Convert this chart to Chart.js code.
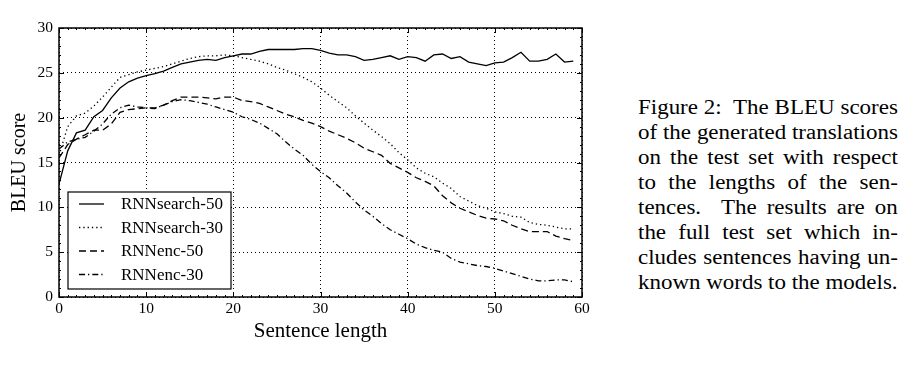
<!DOCTYPE html>
<html>
<head>
<meta charset="utf-8">
<script src="https://cdn.jsdelivr.net/npm/chart.js@4/dist/chart.umd.min.js"></script>
<style>
  body { margin: 0; background: #fff; }
  #wrap { position: absolute; left: 0; top: 0; width: 600px; height: 369px; }
  #caption {
    position: absolute; left: 638px; top: 95px; width: 232px;
    transform: scaleX(1.12); transform-origin: 0 0;
    font-family: "Liberation Serif", "Times New Roman", serif;
    font-size: 20.5px; line-height: 25px; color: #000;
  }
  #caption div { text-align: justify; text-align-last: justify; white-space: nowrap; }
  #caption div.last { text-align-last: left; }
</style>
</head>
<body>
<div id="wrap"><canvas id="bleu-graph"></canvas></div>
<div id="caption">
  <div>Figure 2:&nbsp; The BLEU scores</div>
  <div>of the generated translations</div>
  <div>on the test set with respect</div>
  <div>to the lengths of the sen-</div>
  <div>tences.&nbsp; The results are on</div>
  <div>the full test set which in-</div>
  <div>cludes sentences having un-</div>
  <div class="last">known words to the models.</div>
</div>
<script>
// sentence lengths on the x axis
var sentenceLength = [];
for (var i = 0; i < 60; i++) sentenceLength.push(i);

var rnnSearch50 = [12.6, 16.3, 18.3, 18.6, 20.1, 20.8, 22.2, 23.3, 24.0, 24.4,
  24.7, 24.9, 25.2, 25.6, 26.0, 26.2, 26.4, 26.5, 26.4, 26.7,
  26.9, 27.1, 27.1, 27.4, 27.6, 27.6, 27.6, 27.6, 27.7, 27.7,
  27.5, 27.2, 27.0, 27.0, 26.8, 26.4, 26.5, 26.7, 26.9, 26.5,
  26.8, 26.7, 26.3, 27.0, 27.1, 26.6, 26.8, 26.2, 26.0, 25.8,
  26.1, 26.2, 26.7, 27.3, 26.3, 26.3, 26.5, 27.1, 26.2, 26.3];

var rnnSearch30 = [15.8, 19.0, 20.2, 20.5, 21.3, 22.3, 23.4, 24.5, 24.8, 25.1,
  25.3, 25.5, 25.7, 26.0, 26.3, 26.6, 26.8, 26.9, 26.9, 27.0,
  26.9, 26.7, 26.5, 26.3, 26.0, 25.6, 25.3, 24.9, 24.5, 24.0,
  23.3, 22.5, 21.8, 21.1, 20.2, 19.4, 18.6, 17.9, 17.1, 16.1,
  15.3, 14.4, 13.8, 13.4, 12.7, 12.1, 11.2, 10.7, 10.2, 9.9,
  9.5, 9.3, 9.0, 8.9, 8.3, 8.1, 8.0, 7.8, 7.6, 7.6];

var rnnEnc50 = [15.5, 17.0, 17.6, 18.1, 18.6, 18.6, 19.3, 20.6, 20.9, 21.0,
  21.1, 21.1, 21.4, 21.9, 22.3, 22.3, 22.3, 22.2, 22.1, 22.3,
  22.3, 21.9, 21.8, 21.6, 21.2, 20.8, 20.4, 20.1, 19.7, 19.4,
  19.0, 18.5, 18.1, 17.7, 17.2, 16.6, 16.2, 15.8, 14.9, 14.4,
  13.9, 13.3, 12.9, 12.4, 11.3, 10.5, 9.9, 9.5, 9.1, 8.8,
  8.7, 8.5, 8.0, 7.6, 7.3, 7.3, 7.3, 6.8, 6.5, 6.3];

var rnnEnc30 = [16.5, 17.3, 17.6, 17.8, 18.5, 19.3, 20.4, 21.1, 21.4, 21.2,
  21.1, 21.0, 21.4, 21.8, 22.0, 21.9, 21.7, 21.5, 21.2, 20.9,
  20.6, 20.1, 19.8, 19.4, 18.8, 18.2, 17.3, 16.5, 15.8, 14.8,
  14.0, 13.3, 12.4, 11.6, 10.6, 9.7, 9.0, 8.2, 7.5, 7.0,
  6.5, 5.9, 5.5, 5.2, 5.0, 4.3, 3.9, 3.7, 3.5, 3.4,
  3.2, 2.9, 2.6, 2.3, 2.0, 1.8, 1.8, 1.9, 1.9, 1.7];

var xTicks = [0, 10, 20, 30, 40, 50, 60];
var yTicks = [0, 5, 10, 15, 20, 25, 30];

var serif = '"Liberation Serif", "Times New Roman", serif';

function points(values) {
  return values.map(function (v, i) { return { x: sentenceLength[i], y: v }; });
}

function series(label, values, dash) {
  return {
    label: label,
    data: points(values),
    borderColor: '#000',
    borderWidth: 1.3,
    borderDash: dash,
    pointRadius: 0,
    fill: false,
    tension: 0
  };
}

// frame, inward ticks and the legend box inside the plot
var framePlugin = {
  id: 'frame',
  afterDatasetsDraw: function (chart) {
    var c = chart.ctx, a = chart.chartArea;
    var xs = chart.scales.x, ys = chart.scales.y;
    c.save();
    c.strokeStyle = '#000';
    c.lineWidth = 1;
    c.setLineDash([]);
    c.beginPath();
    for (var v = 0; v <= 60; v++) {
      var len = v % 10 === 0 ? 5 : 2;
      var px = Math.round(xs.getPixelForValue(v)) + 0.5;
      c.moveTo(px, a.bottom); c.lineTo(px, a.bottom - len);
      c.moveTo(px, a.top); c.lineTo(px, a.top + len);
    }
    for (var w = 0; w <= 30; w++) {
      var l2 = w % 5 === 0 ? 5 : 2;
      var py = Math.round(ys.getPixelForValue(w)) + 0.5;
      c.moveTo(a.left, py); c.lineTo(a.left + l2, py);
      c.moveTo(a.right, py); c.lineTo(a.right - l2, py);
    }
    c.stroke();
    c.lineWidth = 1.5;
    c.strokeRect(a.left, a.top, a.right - a.left, a.bottom - a.top);

    // legend
    var bx = a.left + 9, by = a.top + 164, bw = 163, bh = 97;
    c.fillStyle = '#fff';
    c.fillRect(bx, by, bw, bh);
    c.lineWidth = 1.2;
    c.strokeRect(bx, by, bw, bh);
    c.font = '17px ' + serif;
    c.textBaseline = 'middle';
    chart.data.datasets.forEach(function (ds, i) {
      var ry = by + 12 + i * 23.5;
      c.beginPath();
      c.lineWidth = ds.borderWidth;
      c.setLineDash(ds.borderDash);
      c.moveTo(bx + 11, ry); c.lineTo(bx + 36, ry);
      c.stroke();
      c.setLineDash([]);
      c.fillStyle = '#000';
      c.fillText(ds.label, bx + 53, ry + 1);
    });
    c.restore();
  }
};

var ctx = document.getElementById('bleu-graph').getContext('2d');
var BleuChart = new Chart(ctx, {
  type: 'line',
  data: {
    datasets: [
      series('RNNsearch-50', rnnSearch50, []),
      series('RNNsearch-30', rnnSearch30, [1.3, 3]),
      series('RNNenc-50', rnnEnc50, [7, 4]),
      series('RNNenc-30', rnnEnc30, [6, 3, 1.3, 3])
    ]
  },
  options: {
    responsive: true,
    maintainAspectRatio: false,
    animation: false,
    layout: { padding: { top: 28, right: 18, left: 0, bottom: 0 } },
    plugins: { legend: { display: false }, tooltip: { enabled: false } },
    scales: {
      x: {
        type: 'linear',
        min: 0, max: 60,
        afterFit: function (s) { s.height = 72; },
        afterBuildTicks: function (s) { s.ticks = xTicks.map(function (v) { return { value: v }; }); },
        grid: { color: '#000', lineWidth: 1, drawTicks: false },
        border: { display: false, dash: [1, 3] },
        ticks: { color: '#000', padding: 3, maxRotation: 0, font: { family: serif, size: 15.5 } },
        title: { display: true, text: 'Sentence length', color: '#000', padding: { bottom: 25 }, font: { family: serif, size: 21 } }
      },
      y: {
        min: 0, max: 30,
        afterFit: function (s) { s.width = 59; },
        afterBuildTicks: function (s) { s.ticks = yTicks.map(function (v) { return { value: v }; }); },
        grid: { color: '#000', lineWidth: 1, drawTicks: false },
        border: { display: false, dash: [1, 3] },
        ticks: { color: '#000', padding: 6, font: { family: serif, size: 15.5 } },
        title: { display: true, text: 'BLEU score', color: '#000', padding: { top: 8 }, font: { family: serif, size: 20 } }
      }
    }
  },
  plugins: [framePlugin]
});
</script>
</body>
</html>
